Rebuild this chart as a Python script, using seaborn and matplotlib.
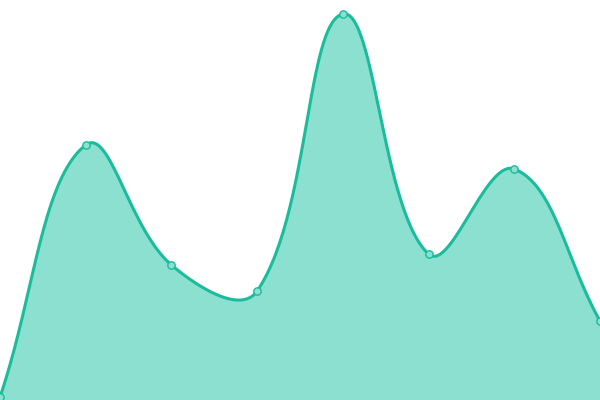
import numpy as np
import pandas as pd
import matplotlib
matplotlib.use("Agg")
import matplotlib.pyplot as plt
import seaborn as sns

# data (y axis 0..400, chart fills the whole canvas)
labels = ["A", "B", "C", "D", "E", "F", "G", "H"]
values = [3, 255, 135, 109, 386, 146, 231, 79]

line_color = "#1abc9c"
fill_color = "#8ce0d0"
W, H = 600, 400
tension = 0.4

sns.set_style("white")

# positions in pixel space, so the smoothing behaves like a canvas spline
n = len(values)
px = np.array([i * W / (n - 1) for i in range(n)], dtype=float)
py = np.array(values, dtype=float)


def control_points(i):
    prev_i = max(i - 1, 0)
    next_i = min(i + 1, n - 1)
    p0 = np.array([px[prev_i], py[prev_i]])
    p1 = np.array([px[i], py[i]])
    p2 = np.array([px[next_i], py[next_i]])
    d01 = np.hypot(*(p1 - p0))
    d12 = np.hypot(*(p2 - p1))
    tot = d01 + d12
    s01 = d01 / tot if tot else 0
    s12 = d12 / tot if tot else 0
    c_prev = p1 - tension * s01 * (p2 - p0)
    c_next = p1 + tension * s12 * (p2 - p0)
    c_prev[1] = np.clip(c_prev[1], 0, H)
    c_next[1] = np.clip(c_next[1], 0, H)
    c_prev[0] = np.clip(c_prev[0], 0, W)
    c_next[0] = np.clip(c_next[0], 0, W)
    return c_prev, c_next


ctrl = [control_points(i) for i in range(n)]
xs, ys = [], []
t = np.linspace(0, 1, 60)
for i in range(n - 1):
    a = np.array([px[i], py[i]])
    b = ctrl[i][1]
    c = ctrl[i + 1][0]
    d = np.array([px[i + 1], py[i + 1]])
    seg = ((1 - t) ** 3)[:, None] * a + (3 * (1 - t) ** 2 * t)[:, None] * b \
        + (3 * (1 - t) * t ** 2)[:, None] * c + (t ** 3)[:, None] * d
    xs.extend(seg[:, 0])
    ys.extend(seg[:, 1])

curve = pd.DataFrame({"x": xs, "y": ys})
pts = pd.DataFrame({"x": px, "y": py, "label": labels})

fig = plt.figure(figsize=(6, 4), dpi=100)
ax = fig.add_axes([0, 0, 1, 1])

ax.fill_between(curve["x"], curve["y"], 0, color=fill_color, lw=0)
sns.lineplot(data=curve, x="x", y="y", sort=False, color=line_color, lw=2.2, ax=ax)
sns.scatterplot(data=pts, x="x", y="y", s=28, color=fill_color, edgecolor=line_color,
                linewidth=1, ax=ax, zorder=5, clip_on=False)

ax.set_xlim(0, W)
ax.set_ylim(0, H)
ax.axis("off")

fig.savefig("out.png", dpi=100)
